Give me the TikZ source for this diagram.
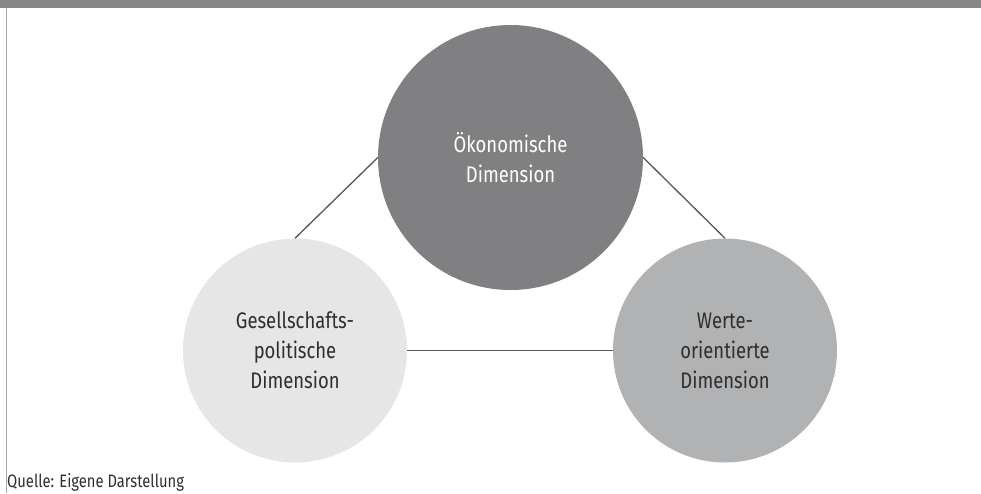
\documentclass[tikz,border=0pt]{standalone}
\usepackage{fontspec}
\setmainfont{Fira Sans}[FakeStretch=0.82]
\usepackage{tikz}
\usetikzlibrary{positioning}
\definecolor{barcol}{HTML}{87878A}
\definecolor{oekcol}{HTML}{808083}
\definecolor{gescol}{HTML}{E6E6E7}
\definecolor{wertcol}{HTML}{B1B2B4}
\definecolor{linecol}{HTML}{555557}
\definecolor{txtcol}{HTML}{2E2E2E}

\begin{document}
\begin{tikzpicture}[x=1pt,y=-1pt,
    dim/.style={circle,inner sep=0pt,align=center,
      font=\fontsize{22.5}{30}\selectfont,text=txtcol},
    link/.style={draw=linecol,line width=1.3pt}]
    \useasboundingbox (0,0) rectangle (981,493);
    \fill[barcol] (0,0) rectangle (981,8);
    \draw[barcol!75,line width=1pt] (6,8) -- (6,493);
    \node[dim,fill=oekcol,text=white,minimum size=265pt] (oek) at (510.5,157.5) {Ökonomische\\Dimension};
    \node[dim,fill=gescol,minimum size=224pt] (ges) at (295,350.5) {Gesellschafts-\\politische\\Dimension};
    \node[dim,fill=wertcol,minimum size=224pt] (wert) at (725,350.5) {Werte-\\orientierte\\Dimension};
    \path[link]
    (ges.north) edge (oek.west)
    (oek.east) edge (wert.north)
    (ges.east) edge (wert.west)
    ;
    \node[anchor=base west,font=\fontsize{18}{20}\selectfont,text=txtcol,inner sep=0pt] (src) at (7,487) {Quelle: Eigene Darstellung};
  \end{tikzpicture}
\end{document}
